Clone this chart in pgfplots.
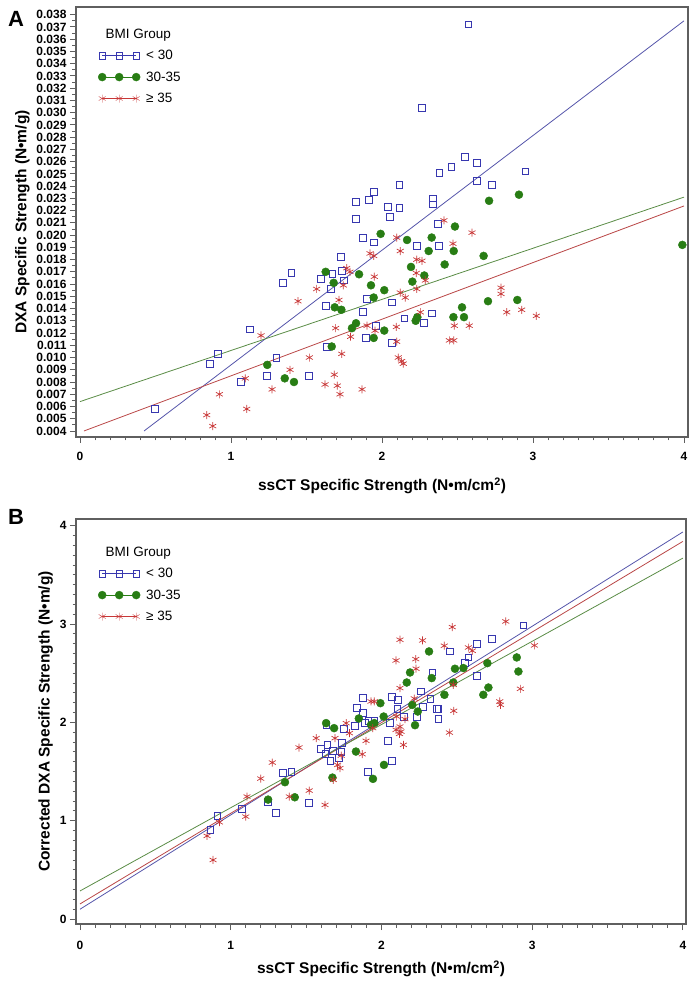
\documentclass[border=0pt]{standalone}
\usepackage{fontspec}
\setmainfont{Liberation Sans}
\usepackage{pgfplots}
\pgfplotsset{compat=1.18}
\definecolor{sqblue}{RGB}{55,55,175}
\definecolor{dotgreen}{RGB}{40,125,20}
\definecolor{astred}{RGB}{200,55,55}
\definecolor{lblue}{RGB}{85,85,170}
\definecolor{lgreen}{RGB}{90,140,70}
\definecolor{lred}{RGB}{185,70,70}
\definecolor{framec}{RGB}{95,95,95}
\pgfplotsset{
  panel/.style={
    scale only axis,
    axis line style={draw=framec, line width=1.1pt},
    tick align=outside, tick pos=left,
    major tick length=6pt, minor tick length=3.5pt,
    every tick/.style={draw=framec, line width=0.9pt},
    /pgf/number format/assume math mode=true,
    ticklabel style={font=\bfseries\fontsize{12}{12}\selectfont},
    label style={font=\bfseries\fontsize{15.5}{16}\selectfont},
    xtick={0,1,2,3,4}, minor x tick num=9,
    legend cell align=left,
    legend style={draw=none, fill=none, anchor=north west, at={(axis description cs:0,1)},
      font=\fontsize{13.5}{14}\selectfont, row sep=8.5pt, column sep=5pt,
      nodes={inner sep=1pt}},
    legend image code/.code={\draw[##1] plot coordinates {(2pt,0pt) (19pt,0pt) (36pt,0pt)};},
  },
  sqstyle/.style={only marks, mark=square, mark size=3.4pt, mark options={draw=sqblue, fill=none, line width=0.8pt}},
  dotstyle/.style={only marks, mark=*, mark size=4pt, mark options={draw=dotgreen, fill=dotgreen}},
  aststyle/.style={only marks, mark=asterisk, mark size=4pt, mark options={draw=astred, line width=0.7pt}},
}
\begin{document}
\begin{tikzpicture}
\path[use as bounding box] (0pt,0pt) rectangle (696pt,982pt);
\node[font=\bfseries\fontsize{22}{22}\selectfont] at (16pt,963pt) {A};
\node[font=\bfseries\fontsize{22}{22}\selectfont] at (16pt,465pt) {B};
\node[anchor=west, font=\fontsize{13.5}{14}\selectfont] at (102pt,947pt) {BMI Group};
\node[anchor=west, font=\fontsize{13.5}{14}\selectfont] at (102pt,429pt) {BMI Group};
% ---------------- Panel A ----------------
\begin{axis}[panel, at={(76pt,545pt)}, anchor=south west,
  width=612pt, height=430pt,
  xmin=-0.0265, xmax=4.0265, ymin=0.00351, ymax=0.03863,
  ytick={0.004,0.005,0.006,0.007,0.008,0.009,0.010,0.011,0.012,0.013,0.014,0.015,0.016,0.017,0.018,0.019,0.020,0.021,0.022,0.023,0.024,0.025,0.026,0.027,0.028,0.029,0.030,0.031,0.032,0.033,0.034,0.035,0.036,0.037,0.038},
  minor y tick num=1, scaled y ticks=false,
  yticklabel style={/pgf/number format/.cd, fixed, fixed zerofill, precision=3},
  xticklabel style={yshift=-6pt},
  xlabel style={yshift=-10pt},
  xlabel={ssCT Specific Strength (N•m/cm\textsuperscript{2})},
  ylabel={DXA Specific Strength (N•m/g)},
  legend style={xshift=19pt, yshift=-40pt},
]
\addlegendimage{draw=sqblue, mark=square, mark size=3.4pt, mark options={fill=none}}
\addlegendentry{< 30}
\addlegendimage{draw=dotgreen, mark=*, mark size=4pt, mark options={fill=dotgreen}}
\addlegendentry{30-35}
\addlegendimage{draw=astred, mark=asterisk, mark size=4pt}
\addlegendentry{≥ 35}
\addplot[lblue, line width=0.8pt, forget plot] coordinates {(0.424,0.0040) (4.0,0.0375)};
\addplot[lgreen, line width=0.8pt, forget plot] coordinates {(0,0.0064) (4.0,0.0231)};
\addplot[lred, line width=0.8pt, forget plot] coordinates {(0.026,0.0040) (4.0,0.02238)};
\addplot[sqstyle, forget plot] coordinates {
(0.497,0.0058) (0.859,0.0095) (0.912,0.0103) (1.066,0.0080) (1.126,0.0123) (1.240,0.0085)
(1.300,0.0100) (1.342,0.0161) (1.400,0.0169) (1.517,0.0085) (1.596,0.0164) (1.627,0.0142)
(1.634,0.0109) (1.660,0.0156) (1.671,0.0168) (1.728,0.0182) (1.737,0.0171) (1.748,0.0163)
(1.828,0.0227) (1.828,0.0213) (1.874,0.0198) (1.874,0.0137) (1.892,0.0116) (1.901,0.0148)
(1.914,0.0229) (1.945,0.0235) (1.945,0.0194) (1.958,0.0126) (2.038,0.0223) (2.050,0.0215)
(2.064,0.0145) (2.068,0.0112) (2.115,0.0241) (2.115,0.0222) (2.148,0.0132) (2.230,0.0191)
(2.265,0.0304) (2.278,0.0128) (2.329,0.0136) (2.338,0.0230) (2.338,0.0225) (2.370,0.0209)
(2.375,0.0191) (2.380,0.0251) (2.460,0.0256) (2.550,0.0264) (2.572,0.0372) (2.630,0.0259)
(2.630,0.0244) (2.730,0.0241) (2.950,0.0252)};
\addplot[dotstyle, forget plot] coordinates {
(1.240,0.0094) (1.356,0.0083) (1.417,0.0080) (1.627,0.0170) (1.667,0.0109) (1.680,0.0161)
(1.687,0.0141) (1.731,0.0139) (1.801,0.0124) (1.828,0.0128) (1.848,0.0168) (1.927,0.0159)
(1.945,0.0149) (1.945,0.0116) (1.991,0.0201) (2.015,0.0155) (2.015,0.0122) (2.166,0.0196)
(2.192,0.0174) (2.201,0.0162) (2.223,0.0130) (2.234,0.0133) (2.280,0.0167) (2.309,0.0187)
(2.329,0.0198) (2.415,0.0176) (2.473,0.0133) (2.475,0.0187) (2.483,0.0207) (2.530,0.0141)
(2.543,0.0133) (2.673,0.0183) (2.702,0.0146) (2.709,0.0228) (2.896,0.0147) (2.907,0.0233)
(3.989,0.0192)};
\addplot[aststyle, forget plot] coordinates {
(0.839,0.0053) (0.879,0.0044) (0.923,0.0070) (1.095,0.0083) (1.104,0.0058) (1.199,0.0118)
(1.272,0.0074) (1.391,0.0090) (1.444,0.0146) (1.519,0.0100) (1.567,0.0156) (1.623,0.0078)
(1.684,0.0086) (1.693,0.0124) (1.704,0.0077) (1.715,0.0147) (1.722,0.0070) (1.733,0.0103)
(1.744,0.0159) (1.766,0.0173) (1.788,0.0170) (1.792,0.0117) (1.868,0.0074) (1.901,0.0126)
(1.921,0.0185) (1.945,0.0183) (1.949,0.0166) (1.954,0.0122) (2.095,0.0125) (2.097,0.0198)
(2.097,0.0113) (2.108,0.0100) (2.121,0.0187) (2.121,0.0153) (2.130,0.0097) (2.141,0.0095)
(2.154,0.0149) (2.227,0.0169) (2.230,0.0180) (2.230,0.0156) (2.254,0.0137) (2.265,0.0179)
(2.287,0.0163) (2.410,0.0212) (2.446,0.0114) (2.470,0.0193) (2.475,0.0114) (2.479,0.0126)
(2.578,0.0126) (2.596,0.0202) (2.788,0.0157) (2.788,0.0152) (2.826,0.0137) (2.925,0.0139)
(3.022,0.0134)};
\end{axis}
% ---------------- Panel B ----------------
\begin{axis}[panel, at={(76pt,58pt)}, anchor=south west,
  width=610pt, height=405pt,
  xmin=-0.0265, xmax=4.021, ymin=-0.051, ymax=4.068,
  ytick={0,1,2,3,4}, minor y tick num=9,
  xticklabel style={yshift=-8pt},
  xlabel style={yshift=-4pt},
  xlabel={ssCT Specific Strength (N•m/cm\textsuperscript{2})},
  ylabel={Corrected DXA Specific Strength (N•m/g)},
  legend style={xshift=19pt, yshift=-46pt},
]
\addlegendimage{draw=sqblue, mark=square, mark size=3.4pt, mark options={fill=none}}
\addlegendentry{< 30}
\addlegendimage{draw=dotgreen, mark=*, mark size=4pt, mark options={fill=dotgreen}}
\addlegendentry{30-35}
\addlegendimage{draw=astred, mark=asterisk, mark size=4pt}
\addlegendentry{≥ 35}
\addplot[lblue, line width=0.8pt, forget plot] coordinates {(0,0.099) (4.0,3.936)};
\addplot[lred, line width=0.8pt, forget plot] coordinates {(0,0.153) (4.0,3.84)};
\addplot[lgreen, line width=0.8pt, forget plot] coordinates {(0,0.285) (4.0,3.67)};
\addplot[sqstyle, forget plot] coordinates {
(0.865,0.906) (0.912,1.048) (1.075,1.120) (1.245,1.194) (1.302,1.076) (1.344,1.483)
(1.403,1.493) (1.519,1.178) (1.598,1.727) (1.628,1.679) (1.635,1.975) (1.642,1.771)
(1.662,1.608) (1.679,1.713) (1.716,1.635) (1.734,1.703) (1.737,1.788) (1.751,1.931)
(1.825,1.964) (1.836,2.144) (1.878,2.252) (1.878,2.100) (1.893,1.992) (1.909,1.493)
(1.913,2.015) (1.953,2.015) (2.044,1.815) (2.057,1.992) (2.068,2.256) (2.068,1.608)
(2.106,2.134) (2.112,2.229) (2.150,2.059) (2.234,2.059) (2.263,2.314) (2.275,2.155)
(2.325,2.236) (2.338,2.507) (2.370,2.140) (2.378,2.134) (2.378,2.033) (2.457,2.721)
(2.555,2.602) (2.577,2.660) (2.632,2.799) (2.632,2.476) (2.732,2.847) (2.942,2.985)};
\addplot[dotstyle, forget plot] coordinates {
(1.248,1.214) (1.360,1.391) (1.425,1.238) (1.633,1.992) (1.675,1.438) (1.686,1.941)
(1.831,1.703) (1.850,2.039) (1.931,1.975) (1.944,1.425) (1.953,1.992) (1.993,2.195)
(2.015,2.059) (2.017,1.567) (2.168,2.405) (2.190,2.507) (2.205,2.178) (2.223,1.971)
(2.241,2.110) (2.316,2.721) (2.334,2.450) (2.418,2.280) (2.477,2.405) (2.488,2.545)
(2.544,2.552) (2.676,2.280) (2.703,2.602) (2.710,2.354) (2.898,2.660) (2.909,2.517)};
\addplot[aststyle, forget plot] coordinates {
(0.843,0.845) (0.883,0.600) (0.925,0.984) (1.100,1.041) (1.108,1.245) (1.199,1.428)
(1.276,1.591) (1.389,1.245) (1.453,1.744) (1.521,1.306) (1.567,1.839) (1.626,1.160)
(1.681,1.415) (1.692,1.839) (1.709,1.567) (1.725,1.534) (1.733,1.662) (1.766,1.992)
(1.788,1.890) (1.873,1.676) (1.898,1.812) (1.931,2.212) (1.943,1.941) (1.953,2.212)
(2.097,1.924) (2.097,2.629) (2.101,2.059) (2.120,1.883) (2.123,2.840) (2.123,2.348)
(2.123,1.957) (2.130,1.906) (2.146,1.771) (2.156,2.033) (2.218,2.242) (2.228,2.643)
(2.230,2.545) (2.273,2.833) (2.417,2.779) (2.451,1.896) (2.470,2.969) (2.477,2.382)
(2.480,2.117) (2.577,2.761) (2.603,2.728) (2.785,2.212) (2.790,2.178) (2.825,3.026)
(2.922,2.341) (3.015,2.782)};
\end{axis}
\end{tikzpicture}
\end{document}
